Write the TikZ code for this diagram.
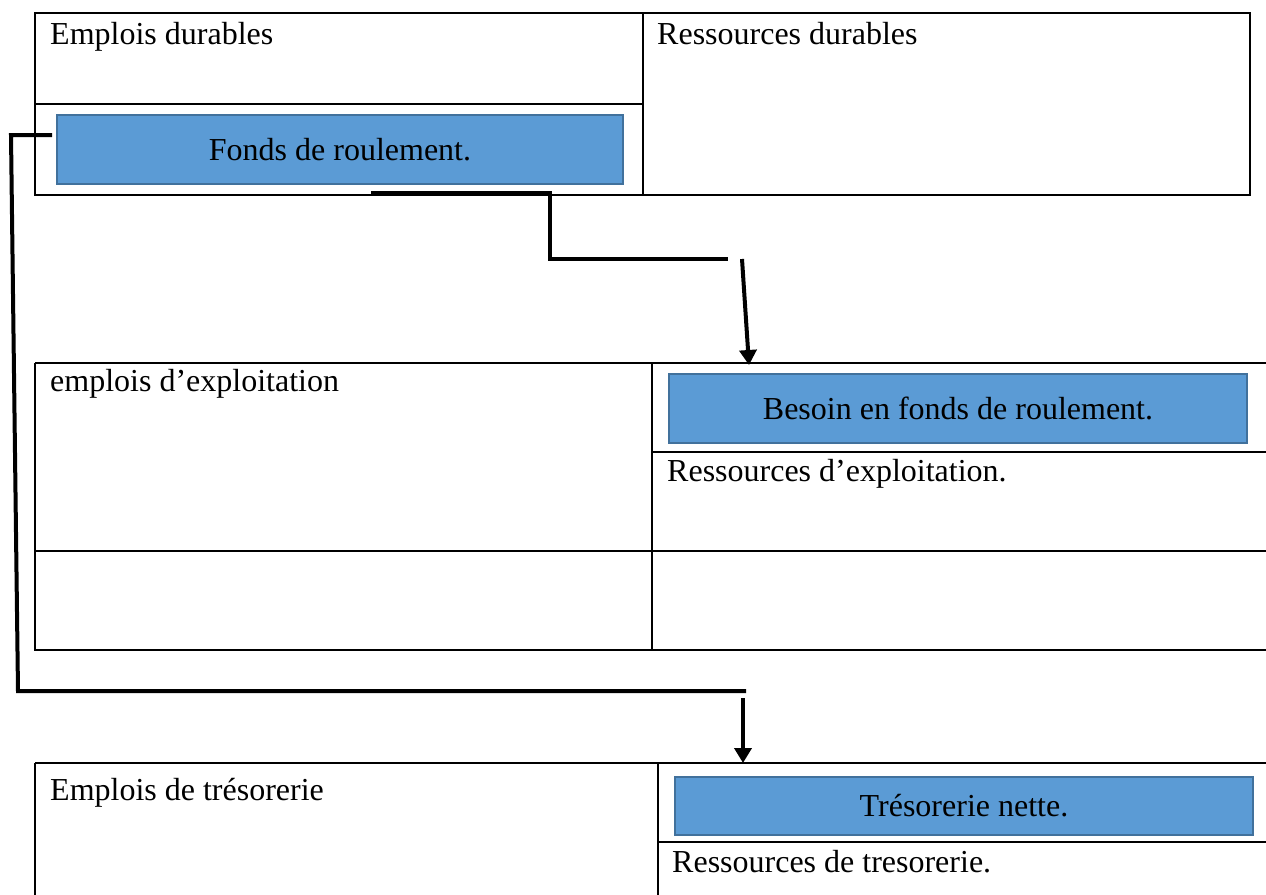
\documentclass[tikz,border=0pt]{standalone}
\usepackage{fontspec}
\setmainfont{Liberation Serif}
\usetikzlibrary{arrows.meta}
\definecolor{boxblue}{HTML}{5B9BD5}
\definecolor{boxedge}{HTML}{41719C}
\tikzset{
  rule/.style={line width=2.6pt, black},
  bluebox/.style={draw=boxedge, fill=boxblue, line width=2.6pt, inner sep=0pt,
    font=\fontsize{32}{37}\selectfont},
  celltext/.style={anchor=base west, inner sep=0pt, font=\fontsize{32}{37}\selectfont},
  link/.style={line width=4pt, black, line join=miter},
  downarrow/.style={line width=4pt, black, -{Triangle[length=15pt,width=17pt]}}
}
\begin{document}
\begin{tikzpicture}[x=1pt,y=-1pt]
\useasboundingbox (0,0) rectangle (1266,894);

% upper table: durable uses / durable resources
\draw[rule] (35,13) rectangle (1250,195);
\draw[rule] (643,13) -- (643,195);
\draw[rule] (35,104) -- (643,104);
\node[celltext] (ed) at (50,44) {Emplois durables};
\node[celltext] (rd) at (657,44) {Ressources durables};
\node[bluebox, minimum width=566pt, minimum height=69pt] (fr) at (340,149.5) {Fonds de roulement.};

% middle table: operating items
\draw[rule] (35,363) -- (1270,363);
\draw[rule] (35,363) -- (35,650) -- (1270,650);
\draw[rule] (652,363) -- (652,650);
\draw[rule] (35,551) -- (1270,551);
\draw[rule] (652,452) -- (1270,452);
\node[celltext] (ee) at (50,391) {emplois d’exploitation};
\node[bluebox, minimum width=578pt, minimum height=69pt] (bfr) at (958,408.5) {Besoin en fonds de roulement.};
\node[celltext] (re) at (667,481) {Ressources d’exploitation.};

% lower table: treasury items
\draw[rule] (35,763) -- (1270,763);
\draw[rule] (35,763) -- (35,900);
\draw[rule] (658,763) -- (658,900);
\draw[rule] (658,842) -- (1270,842);
\node[celltext] (et) at (50,800) {Emplois de trésorerie};
\node[bluebox, minimum width=578pt, minimum height=58pt] (tn) at (964,806) {Trésorerie nette.};
\node[celltext] (rt) at (672,872) {Ressources de tresorerie.};

% connector points
\coordinate (a0) at (52,135);
\coordinate (a1) at (11,135);
\coordinate (a2) at (18,691);
\coordinate (a3) at (746,691);
\coordinate (a4) at (743,698);
\coordinate (b0) at (371,193);
\coordinate (b1) at (550,193);
\coordinate (b2) at (550,259);
\coordinate (b3) at (728,259);
\coordinate (b4) at (742,259);
\coordinate (bt) at (749,365);
\coordinate (tt) at (743,763);

% working capital -> treasury
\draw[link] (a0) -- (a1) -- (a2) -- (a3);
\draw[downarrow] (a4) -- (tt);
% working capital -> working capital requirement
\draw[link] (b0) -- (b1) -- (b2) -- (b3);
\draw[downarrow] (b4) -- (bt);
\end{tikzpicture}
\end{document}
